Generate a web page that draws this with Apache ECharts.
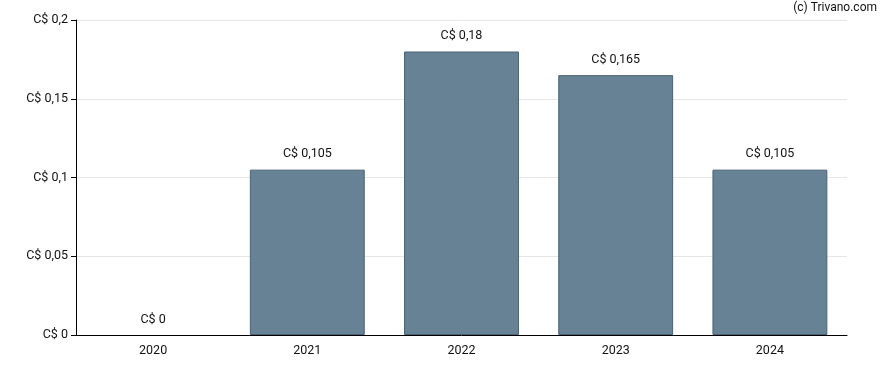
<!DOCTYPE html>
<html><head><meta charset="utf-8">
<script src="https://cdn.jsdelivr.net/npm/echarts@6/dist/echarts.min.js"></script>
<style>html,body{margin:0;padding:0;background:#fff}#c{width:888px;height:370px}</style>
</head><body><div id="c"></div>
<script>
const categories = ['2020','2021','2022','2023','2024'];
const values = [0, 0.105, 0.18, 0.165, 0.105];
const fmt = v => 'C$ ' + String(+v.toFixed(4)).replace('.', ',');
const chart = echarts.init(document.getElementById('c'), null, {renderer:'canvas'});
chart.setOption({
  animation:false,
  textStyle:{fontFamily:'Roboto'},
  graphic:[{type:'text', right:11, top:2, style:{text:'(c) Trivano.com', font:'12px Roboto', fill:'#111'}}],
  grid:{left:76, right:41, top:20, bottom:35, containLabel:false},
  xAxis:{type:'category', data:categories,
    axisLine:{lineStyle:{color:'#000', width:1}},
    axisTick:{alignWithLabel:true, length:5, lineStyle:{color:'#000'}},
    axisLabel:{color:'#111', fontSize:12.5, margin:9, fontFamily:'Roboto'}},
  yAxis:{type:'value', min:0, max:0.2, interval:0.05,
    axisLine:{show:true, lineStyle:{color:'#000', width:1}},
    axisTick:{show:true, length:5, lineStyle:{color:'#000'}},
    splitLine:{lineStyle:{color:'#e6e6e6'}},
    axisLabel:{color:'#111', fontSize:12.5, margin:8, fontFamily:'Roboto', formatter:fmt}},
  series:[{type:'bar', barWidth:'74.5%',
    data:values.map(v => v === 0 ? {value:v, itemStyle:{borderWidth:0}} : v),
    itemStyle:{color:'#668294', borderColor:'#4a6275', borderWidth:1},
    label:{show:true, position:'top', distance:9, color:'#111', fontSize:12.5, fontFamily:'Roboto',
      formatter:p=>fmt(p.value)}}]
});
</script></body></html>
